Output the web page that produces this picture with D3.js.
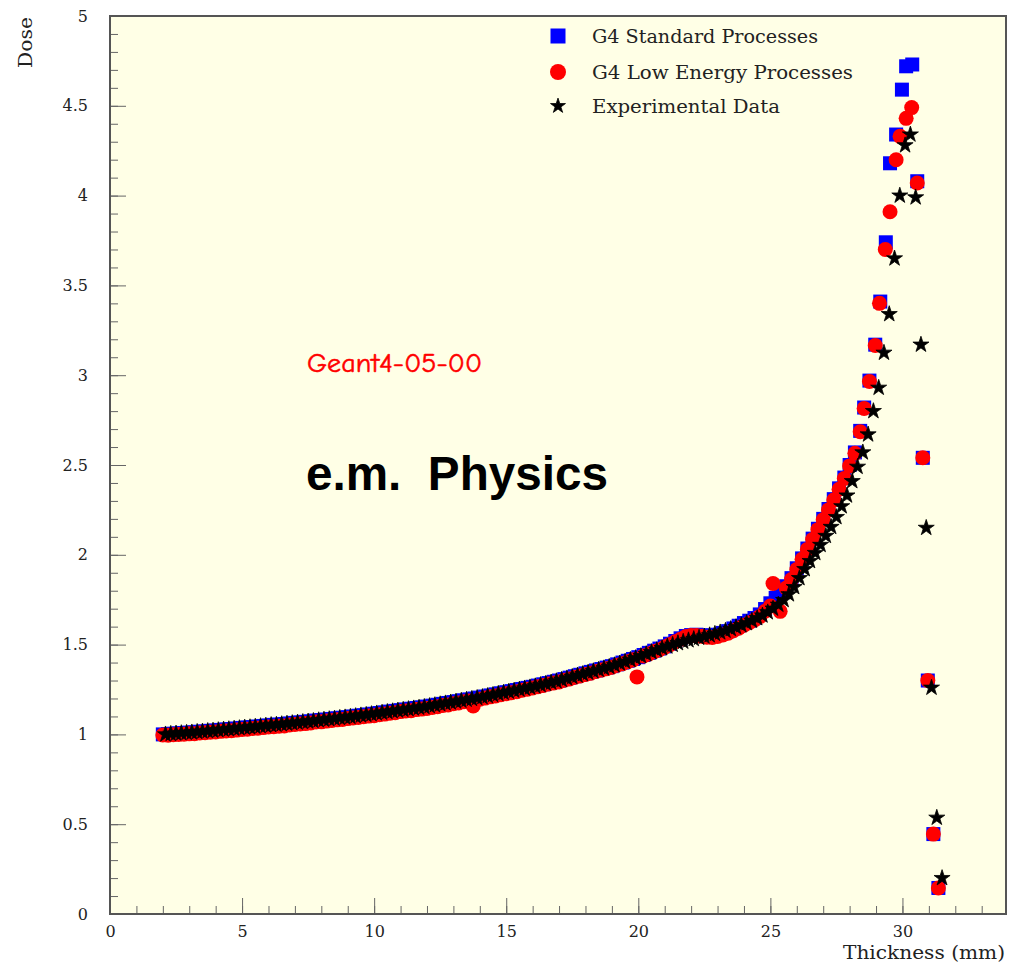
<!DOCTYPE html>
<html>
<head>
<meta charset="utf-8">
<script src="https://cdn.jsdelivr.net/npm/d3@7"></script>
<style>
  html, body { margin: 0; padding: 0; background: #ffffff; }
  svg { display: block; }
</style>
</head>
<body>
<svg id="chart" width="1009" height="963"></svg>
<script>
// ---------------- DATA ----------------
const seriesNames = ["G4 Standard Processes", "G4 Low Energy Processes", "Experimental Data"];

const stdX = [2.0,2.2,2.4,2.6,2.8,3.0,3.2,3.4,3.6,3.8,4.0,4.2,4.4,4.6,4.8,5.0,5.2,5.4,5.6,5.8,6.0,6.2,6.4,6.6,6.8,7.0,7.2,7.4,7.6,7.8,8.0,8.2,8.4,8.6,8.8,9.0,9.2,9.4,9.6,9.8,10.0,10.2,10.4,10.6,10.8,11.0,11.2,11.4,11.6,11.8,12.0,12.2,12.4,12.6,12.8,13.0,13.2,13.4,13.6,13.8,14.0,14.2,14.4,14.6,14.8,15.0,15.2,15.4,15.6,15.8,16.0,16.2,16.4,16.6,16.8,17.0,17.2,17.4,17.6,17.8,18.0,18.2,18.4,18.6,18.8,19.0,19.2,19.4,19.6,19.8,20.0,20.2,20.4,20.6,20.8,21.0,21.2,21.4,21.6,21.8,22.0,22.2,22.4,22.6,22.8,23.0,23.2,23.4,23.6,23.8,24.0,24.2,24.4,24.6,24.8,25.0,25.2,25.4,25.6,25.8,26.0,26.2,26.4,26.6,26.8,27.0,27.2,27.4,27.6,27.8,28.0,28.2,28.4,28.55,28.75,28.97,29.16,29.37,29.53,29.76,29.98,30.14,30.37,30.56,30.77,30.96,31.17,31.36];
const stdDose = [1.000,1.002,1.004,1.006,1.008,1.010,1.012,1.015,1.017,1.020,1.022,1.025,1.028,1.030,1.033,1.036,1.039,1.041,1.044,1.047,1.050,1.053,1.055,1.058,1.061,1.064,1.067,1.070,1.073,1.077,1.080,1.083,1.086,1.090,1.093,1.096,1.100,1.104,1.107,1.111,1.115,1.119,1.123,1.127,1.131,1.135,1.139,1.143,1.147,1.151,1.155,1.160,1.165,1.170,1.175,1.180,1.185,1.190,1.195,1.200,1.205,1.211,1.217,1.223,1.229,1.235,1.241,1.247,1.253,1.259,1.265,1.272,1.279,1.286,1.293,1.300,1.308,1.316,1.324,1.332,1.340,1.348,1.356,1.364,1.372,1.380,1.390,1.400,1.410,1.420,1.430,1.442,1.454,1.466,1.478,1.490,1.505,1.520,1.535,1.548,1.553,1.555,1.552,1.549,1.550,1.555,1.565,1.575,1.590,1.605,1.620,1.633,1.648,1.668,1.698,1.730,1.760,1.790,1.825,1.870,1.925,1.980,2.035,2.090,2.145,2.200,2.255,2.310,2.370,2.430,2.500,2.570,2.690,2.820,2.970,3.170,3.410,3.740,4.180,4.340,4.590,4.720,4.730,4.080,2.540,1.300,0.445,0.145];

const lowX = [2.0,2.2,2.4,2.6,2.8,3.0,3.2,3.4,3.6,3.8,4.0,4.2,4.4,4.6,4.8,5.0,5.2,5.4,5.6,5.8,6.0,6.2,6.4,6.6,6.8,7.0,7.2,7.4,7.6,7.8,8.0,8.2,8.4,8.6,8.8,9.0,9.2,9.4,9.6,9.8,10.0,10.2,10.4,10.6,10.8,11.0,11.2,11.4,11.6,11.8,12.0,12.2,12.4,12.6,12.8,13.0,13.2,13.4,13.6,13.75,14.0,14.2,14.4,14.6,14.8,15.0,15.2,15.4,15.6,15.8,16.0,16.2,16.4,16.6,16.8,17.0,17.2,17.4,17.6,17.8,18.0,18.2,18.4,18.6,18.8,19.0,19.2,19.4,19.6,19.8,19.95,20.2,20.4,20.6,20.8,21.0,21.2,21.4,21.6,21.8,22.0,22.2,22.4,22.6,22.8,23.0,23.2,23.4,23.6,23.8,24.0,24.2,24.4,24.6,24.8,25.0,25.1,25.37,25.6,25.8,26.0,26.2,26.4,26.6,26.8,27.0,27.2,27.4,27.6,27.8,28.0,28.2,28.4,28.55,28.75,28.97,29.13,29.35,29.53,29.76,29.91,30.14,30.35,30.56,30.77,30.96,31.17,31.36];
const lowDose = [0.997,0.995,0.998,1.000,1.001,1.003,1.004,1.008,1.009,1.012,1.013,1.017,1.019,1.020,1.024,1.027,1.029,1.033,1.034,1.038,1.041,1.043,1.046,1.047,1.052,1.055,1.058,1.060,1.064,1.069,1.070,1.074,1.077,1.081,1.083,1.088,1.091,1.094,1.098,1.102,1.104,1.110,1.113,1.118,1.121,1.127,1.130,1.132,1.138,1.141,1.144,1.150,1.154,1.161,1.164,1.171,1.175,1.182,1.186,1.158,1.196,1.202,1.209,1.214,1.221,1.226,1.232,1.238,1.246,1.251,1.258,1.266,1.272,1.281,1.286,1.292,1.302,1.309,1.318,1.325,1.334,1.341,1.350,1.358,1.366,1.374,1.385,1.394,1.405,1.415,1.320,1.437,1.448,1.461,1.472,1.486,1.500,1.516,1.530,1.545,1.550,1.551,1.546,1.541,1.540,1.545,1.554,1.563,1.577,1.592,1.608,1.622,1.637,1.656,1.686,1.715,1.840,1.685,1.815,1.862,1.918,1.975,2.030,2.085,2.140,2.195,2.250,2.305,2.365,2.425,2.495,2.565,2.685,2.815,2.965,3.165,3.400,3.700,3.910,4.200,4.330,4.430,4.490,4.070,2.540,1.300,0.445,0.145];

const expX = [2.1,2.3,2.5,2.7,2.9,3.1,3.3,3.5,3.7,3.9,4.1,4.3,4.5,4.7,4.9,5.1,5.3,5.5,5.7,5.9,6.1,6.3,6.5,6.7,6.9,7.1,7.3,7.5,7.7,7.9,8.1,8.3,8.5,8.7,8.9,9.1,9.3,9.5,9.7,9.9,10.1,10.3,10.5,10.7,10.9,11.1,11.3,11.5,11.7,11.9,12.1,12.3,12.5,12.7,12.9,13.1,13.3,13.5,13.7,13.9,14.1,14.3,14.5,14.7,14.9,15.1,15.3,15.5,15.7,15.9,16.1,16.3,16.5,16.7,16.9,17.1,17.3,17.5,17.7,17.9,18.1,18.3,18.5,18.7,18.9,19.1,19.3,19.5,19.7,19.9,20.1,20.3,20.5,20.7,20.9,21.1,21.3,21.5,21.7,21.9,22.1,22.3,22.5,22.7,22.9,23.1,23.3,23.5,23.7,23.9,24.1,24.3,24.5,24.7,24.9,25.1,25.3,25.5,25.7,25.9,26.1,26.3,26.5,26.7,26.9,27.1,27.3,27.5,27.7,27.9,28.1,28.3,28.5,28.7,28.9,29.1,29.3,29.5,29.7,29.9,30.1,30.3,30.5,30.7,30.9,31.1,31.3,31.5];
const expDose = [1.000,1.003,1.005,1.007,1.009,1.011,1.014,1.016,1.019,1.021,1.024,1.027,1.029,1.032,1.035,1.038,1.040,1.043,1.046,1.049,1.052,1.054,1.057,1.060,1.063,1.066,1.069,1.072,1.075,1.079,1.082,1.085,1.088,1.092,1.095,1.098,1.102,1.106,1.109,1.113,1.117,1.121,1.125,1.129,1.133,1.137,1.141,1.145,1.149,1.153,1.158,1.163,1.168,1.173,1.178,1.183,1.188,1.193,1.198,1.203,1.208,1.214,1.220,1.226,1.232,1.238,1.244,1.250,1.256,1.262,1.268,1.275,1.282,1.289,1.296,1.304,1.312,1.320,1.328,1.336,1.344,1.352,1.360,1.368,1.376,1.385,1.395,1.405,1.415,1.425,1.436,1.447,1.458,1.469,1.480,1.490,1.499,1.508,1.516,1.524,1.531,1.538,1.545,1.552,1.560,1.568,1.577,1.587,1.597,1.608,1.620,1.633,1.647,1.662,1.680,1.700,1.722,1.748,1.780,1.820,1.870,1.920,1.965,2.010,2.055,2.105,2.155,2.210,2.270,2.330,2.410,2.490,2.570,2.670,2.800,2.930,3.125,3.340,3.650,4.000,4.280,4.340,3.990,3.170,2.150,1.260,0.536,0.200];

const xMajorTicks = [0,5,10,15,20,25,30];
const xTickLabels = ["0","5","10","15","20","25","30"];
const xMinorTicks = [0,1,2,3,4,5,6,7,8,9,10,11,12,13,14,15,16,17,18,19,20,21,22,23,24,25,26,27,28,29,30,31,32,33];
const yMajorTicks = [0,0.5,1,1.5,2,2.5,3,3.5,4,4.5,5];
const yTickLabels = ["0","0.5","1","1.5","2","2.5","3","3.5","4","4.5","5"];
const yMinorTicks = [0,0.1,0.2,0.3,0.4,0.5,0.6,0.7,0.8,0.9,1,1.1,1.2,1.3,1.4,1.5,1.6,1.7,1.8,1.9,2,2.1,2.2,2.3,2.4,2.5,2.6,2.7,2.8,2.9,3,3.1,3.2,3.3,3.4,3.5,3.6,3.7,3.8,3.9,4,4.1,4.2,4.3,4.4,4.5,4.6,4.7,4.8,4.9,5];

const xTitle = "Thickness (mm)";
const yTitle = "Dose";
const versionLabel = "Geant4-05-00";
const physicsLabel = "e.m.  Physics";

// ---------------- CHART ----------------
const svg = d3.select("#chart");
const L = 110, R = 1006, T = 16, B = 914;
const x = d3.scaleLinear().domain([0, 33.92]).range([L, R]);
const y = d3.scaleLinear().domain([0, 5]).range([B, T]);
const serif = "'DejaVu Serif', 'Liberation Serif', serif";

svg.append("rect").attr("x", L).attr("y", T).attr("width", R - L).attr("height", B - T)
  .attr("fill", "#ffffe6");

// Axes
const gxMinor = svg.append("g").attr("transform", `translate(0,${B})`)
  .call(d3.axisBottom(x).tickValues(xMinorTicks).tickSize(-8).tickFormat(""));
const gxMajor = svg.append("g").attr("transform", `translate(0,${B})`)
  .call(d3.axisBottom(x).tickValues(xMajorTicks).tickSize(-16).tickPadding(12)
    .tickFormat((d, i) => xTickLabels[i]));
const gyMinor = svg.append("g").attr("transform", `translate(${L},0)`)
  .call(d3.axisLeft(y).tickValues(yMinorTicks).tickSize(-8).tickFormat(""));
const gyMajor = svg.append("g").attr("transform", `translate(${L},0)`)
  .call(d3.axisLeft(y).tickValues(yMajorTicks).tickSize(-16).tickPadding(22)
    .tickFormat((d, i) => yTickLabels[i]));

[gxMinor, gxMajor, gyMinor, gyMajor].forEach(g => {
  g.select(".domain").remove();
  g.selectAll(".tick line").attr("stroke", "#666").attr("stroke-width", 1);
  g.selectAll(".tick text").attr("fill", "#222").style("font-family", serif);
});
gxMajor.selectAll(".tick text").style("font-size", "16px");
gyMajor.selectAll(".tick text").style("font-size", "16px");

// Series
const stdData = stdX.map((v, i) => [v, stdDose[i]]);
const lowData = lowX.map((v, i) => [v, lowDose[i]]);
const expData = expX.map((v, i) => [v, expDose[i]]);

const sq = 14;
svg.append("g").selectAll("rect").data(stdData).join("rect")
  .attr("x", d => x(d[0]) - sq / 2).attr("y", d => y(d[1]) - sq / 2)
  .attr("width", sq).attr("height", sq).attr("fill", "#0000ff");

svg.append("g").selectAll("circle").data(lowData).join("circle")
  .attr("cx", d => x(d[0])).attr("cy", d => y(d[1])).attr("r", 7.5)
  .attr("fill", "#ff0000");

const star = d3.symbol().type(d3.symbolStar).size(80);
svg.append("g").selectAll("path").data(expData).join("path")
  .attr("d", star).attr("transform", d => `translate(${x(d[0])},${y(d[1])})`)
  .attr("fill", "#000").attr("stroke", "#000").attr("stroke-width", 0.8).attr("stroke-linejoin", "round");

// Frame
svg.append("rect").attr("x", L).attr("y", T).attr("width", R - L).attr("height", B - T)
  .attr("fill", "none").attr("stroke", "#555").attr("stroke-width", 2);

// Legend
const lg = svg.append("g");
const legendRows = [36, 72, 106];
const legendWidths = [226, 261, 188];
lg.append("rect").attr("x", 558 - 7.5).attr("y", legendRows[0] - 7.5).attr("width", 15).attr("height", 15).attr("fill", "#0000ff");
lg.append("circle").attr("cx", 558).attr("cy", legendRows[1]).attr("r", 8).attr("fill", "#ff0000");
lg.append("path").attr("d", d3.symbol().type(d3.symbolStar).size(70)).attr("transform", `translate(558,${legendRows[2]})`)
  .attr("fill", "#000").attr("stroke", "#000").attr("stroke-width", 0.8).attr("stroke-linejoin", "round");
seriesNames.forEach((n, i) => {
  lg.append("text").attr("x", 592).attr("y", legendRows[i] + 7)
    .attr("textLength", legendWidths[i]).attr("lengthAdjust", "spacingAndGlyphs")
    .style("font-family", serif).style("font-size", "18px").attr("fill", "#222").text(n);
});

// Titles
svg.append("text").attr("x", 1005).attr("y", 959).attr("text-anchor", "end")
  .attr("textLength", 162).attr("lengthAdjust", "spacingAndGlyphs")
  .style("font-family", serif).style("font-size", "18px").attr("fill", "#222").text(xTitle);
svg.append("text").attr("transform", "translate(32,68) rotate(-90)")
  .attr("textLength", 51).attr("lengthAdjust", "spacingAndGlyphs")
  .style("font-family", serif).style("font-size", "19px").attr("fill", "#222").text(yTitle);

// Annotations
svg.append("text").attr("x", 307).attr("y", 372)
  .attr("textLength", 175).attr("lengthAdjust", "spacingAndGlyphs")
  .style("font-family", "'Comic Sans MS', 'Comic Neue', 'DejaVu Sans', sans-serif")
  .style("font-size", "26px").attr("fill", "#ff0000")
  .attr("stroke", "#ff0000").attr("stroke-width", 0.5).text(versionLabel);
svg.append("text").attr("x", 306).attr("y", 490)
  .style("white-space", "pre")
  .attr("textLength", 302).attr("lengthAdjust", "spacingAndGlyphs")
  .style("font-family", "'Liberation Sans', Arial, sans-serif").style("font-weight", "bold")
  .style("font-size", "48px").attr("fill", "#000").text(physicsLabel);
</script>
</body>
</html>
